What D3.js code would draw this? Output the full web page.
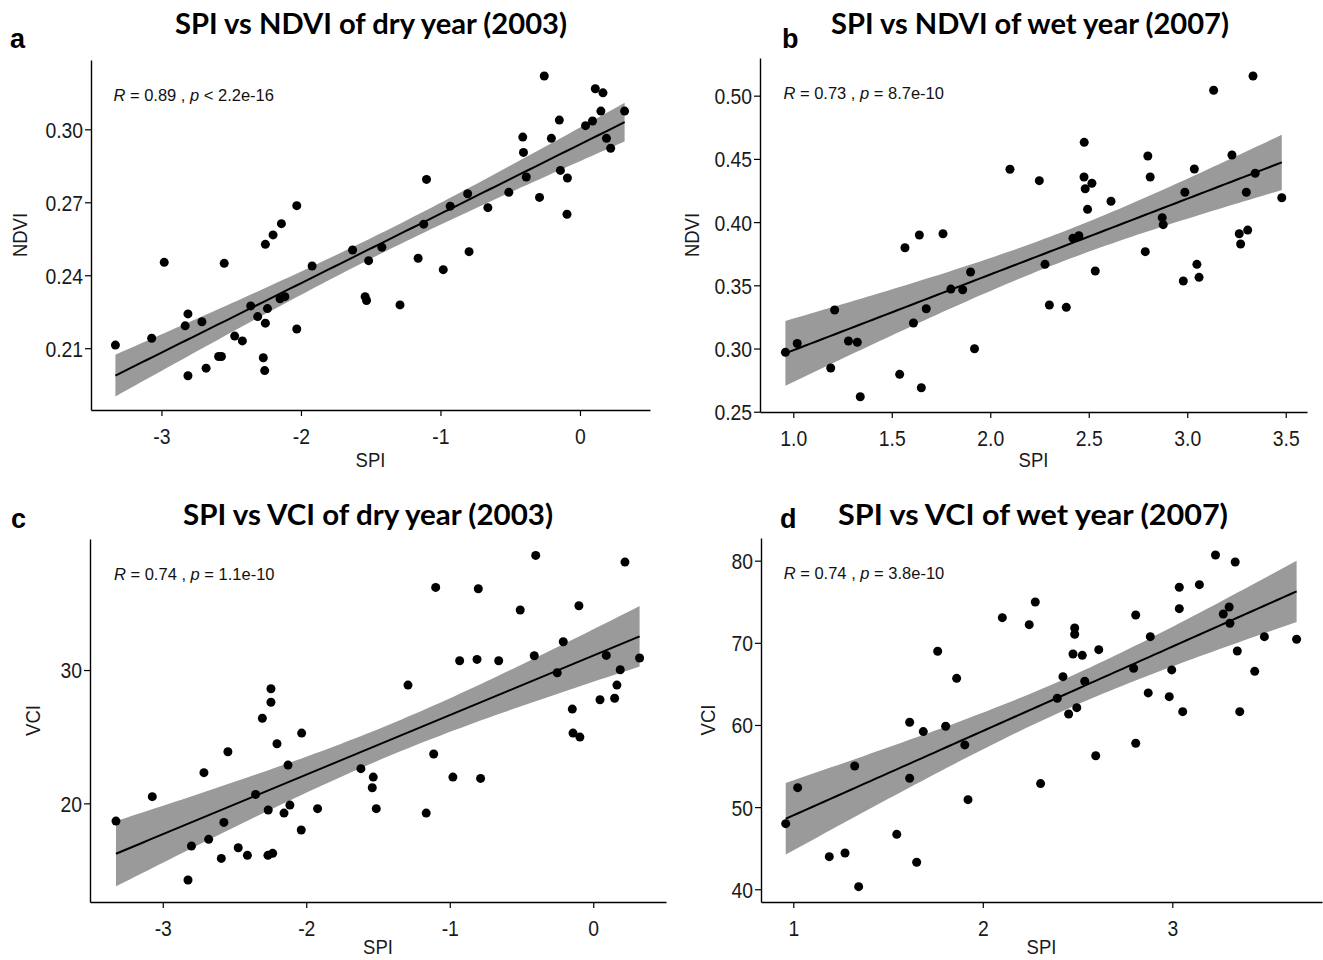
<!DOCTYPE html>
<html>
<head>
<meta charset="utf-8">
<script src="https://cdn.jsdelivr.net/npm/d3@7"></script>
<style>
  body { margin: 0; background: #fff; }
  svg { display: block; }
</style>
</head>
<body>
<svg id="fig" width="1323" height="960"></svg>
<script>
// ---- values ----
var titles = ['SPI vs NDVI of dry year (2003)', 'SPI vs NDVI of wet year (2007)',
              'SPI vs VCI of dry year (2003)', 'SPI vs VCI of wet year (2007)'];
var letters = ['a', 'b', 'c', 'd'];
var xLabels = ['SPI', 'SPI', 'SPI', 'SPI'];
var yLabels = ['NDVI', 'NDVI', 'VCI', 'VCI'];
var statR = ['0.89', '0.73', '0.74', '0.74'];
var statP = ['< 2.2e-16', '= 8.7e-10', '= 1.1e-10', '= 3.8e-10'];

var aXTicks = [-3, -2, -1, 0];
var aYTicks = [0.21, 0.24, 0.27, 0.30];
var bXTicks = [1.0, 1.5, 2.0, 2.5, 3.0, 3.5];
var bYTicks = [0.25, 0.30, 0.35, 0.40, 0.45, 0.50];
var cXTicks = [-3, -2, -1, 0];
var cYTicks = [20, 30];
var dXTicks = [1, 2, 3];
var dYTicks = [40, 50, 60, 70, 80];

// a: SPI vs NDVI, 2003
var aSPI = [-3.33, -3.07, -2.98, -2.81, -2.83, -2.81, -2.71, -2.68, -2.59, -2.57, -2.55, -2.475, -2.42, -2.36,
  -2.31, -2.255, -2.20, -2.14, -2.03, -2.24, -2.255, -2.27, -2.26, -2.15, -2.115, -2.03, -1.92,
  -1.63, -1.515, -1.54, -1.53, -1.42, -1.29, -1.16, -1.12, -1.10, -0.98, -0.93, -0.805, -0.795, -0.66,
  -0.51, -0.41, -0.405, -0.385, -0.29, -0.256, -0.205, -0.148, -0.14, -0.09, -0.093, 0.04, 0.09, 0.11,
  0.165, 0.15, 0.19, 0.22, 0.32];
var aNDVI = [0.2113, 0.2141, 0.2453, 0.2241, 0.2192, 0.1987, 0.2209, 0.2018, 0.2066, 0.2066, 0.2449, 0.2150, 0.2130, 0.2274,
  0.2230, 0.2527, 0.2566, 0.2612, 0.2686, 0.2263, 0.2203, 0.2061, 0.2008, 0.2303, 0.2312, 0.2179, 0.2438,
  0.2504, 0.2460, 0.2312, 0.2296, 0.2515, 0.2278, 0.2470, 0.2610, 0.2794, 0.2423, 0.2684, 0.2735, 0.2497, 0.2678,
  0.2741, 0.2968, 0.2905, 0.2804, 0.2720, 0.3219, 0.2963, 0.3038, 0.2831, 0.2800, 0.2651, 0.3015, 0.3034, 0.3167,
  0.3150, 0.3075, 0.2963, 0.2922, 0.3075];

// b: SPI vs NDVI, 2007
var bSPI = [0.96, 1.02, 1.21, 1.19, 1.28, 1.325, 1.34, 1.54, 1.567, 1.64, 1.61, 1.65, 1.675, 1.76, 1.80, 1.86,
  1.90, 1.92, 2.10, 2.249, 2.278, 2.30, 2.386, 2.42, 2.45, 2.477, 2.476, 2.482, 2.516, 2.494, 2.533, 2.613,
  2.787, 2.80, 2.812, 2.873, 2.878, 2.98, 2.988, 3.036, 3.049, 3.06, 3.134, 3.227, 3.264, 3.271, 3.30,
  3.307, 3.334, 3.345, 3.48];
var bNDVI = [0.297, 0.304, 0.3305, 0.2846, 0.306, 0.305, 0.2619, 0.2796, 0.3797, 0.3898, 0.3202, 0.269, 0.3315, 0.3908, 0.347, 0.3465,
  0.3605, 0.2998, 0.4418, 0.4328, 0.3666, 0.3344, 0.3326, 0.3872, 0.3892, 0.4631, 0.4357, 0.4264, 0.4307, 0.4101, 0.3613, 0.4165,
  0.3766, 0.4523, 0.4357, 0.4035, 0.398, 0.3534, 0.4236, 0.442, 0.3666, 0.3563, 0.5043, 0.4531, 0.3908, 0.3827, 0.4236,
  0.3937, 0.5156, 0.4386, 0.4193];

// c: SPI vs VCI, 2003
var cSPI = [-3.326, -3.073, -2.824, -2.80, -2.713, -2.68, -2.592, -2.574, -2.546, -2.474, -2.41, -2.353, -2.306, -2.265,
  -2.267, -2.234, -2.246, -2.246, -2.204, -2.155, -2.127, -2.114, -2.035, -2.032, -1.921,
  -1.619, -1.533, -1.54, -1.512, -1.291, -1.164, -1.112, -1.098, -0.978, -0.931, -0.81, -0.801, -0.785, -0.659,
  -0.509, -0.411, -0.401, -0.251, -0.209, -0.146, -0.141, -0.093, -0.10, 0.047, 0.091, 0.149, 0.165, 0.188,
  0.221, 0.323];
var cVCI = [18.67, 20.50, 14.25, 16.80, 22.30, 17.30, 15.87, 18.57, 23.87, 16.67, 16.10, 20.67, 26.38, 19.50,
  16.10, 16.25, 28.60, 27.58, 24.47, 19.27, 22.87, 19.87, 18.0, 25.27, 19.60,
  22.60, 21.97, 21.17, 19.60, 28.87, 19.27, 23.70, 36.20, 21.97, 30.70, 30.80, 36.10, 21.87, 30.70,
  34.50, 31.07, 38.60, 29.80, 32.12, 27.07, 25.27, 24.97, 34.82, 27.77, 31.10, 27.88, 28.87, 30.02,
  38.10, 30.90];

// d: SPI vs VCI, 2007
var dSPI = [0.96, 1.023, 1.19, 1.273, 1.324, 1.345, 1.546, 1.614, 1.614, 1.651, 1.686, 1.762, 1.804, 1.862, 1.905,
  1.922, 2.103, 2.245, 2.277, 2.305, 2.393, 2.423, 2.453, 2.476, 2.485, 2.485, 2.496, 2.525, 2.538, 2.596,
  2.612, 2.796, 2.807, 2.807, 2.873, 2.884, 2.984, 2.997, 3.037, 3.037, 3.055, 3.143, 3.228, 3.269, 3.30,
  3.304, 3.332, 3.343, 3.356, 3.435, 3.486, 3.656];
var dVCI = [47.99, 52.37, 43.97, 44.42, 55.01, 40.32, 46.69, 60.33, 53.51, 43.29, 59.19, 68.97, 59.84, 65.68, 57.57,
  50.91, 73.06, 72.21, 74.97, 52.86, 63.25, 65.88, 61.34, 68.64, 71.81, 71.04, 62.11, 68.48, 65.32, 56.26,
  69.17, 66.90, 73.39, 57.77, 63.90, 70.75, 63.45, 66.70, 74.16, 76.76, 61.62, 77.08, 80.69, 73.51, 74.36,
  72.38, 79.84, 69.01, 61.62, 66.53, 70.75, 70.43];

// ---- layout ----
var panels = [
  {xs: aSPI, ys: aNDVI, xTicks: aXTicks, yTicks: aYTicks, xFmt: 'd', yFmt: '.2f',
   left: 91, right: 650, top: 60, bottom: 410, xDom: [-3.505, 0.502], yDom: [0.1846, 0.3285],
   titleX: 371, titleY: 34, titleW: 392, letterX: 10, letterY: 48, yTitleX: 27, xTitleY: 467},
  {xs: bSPI, ys: bNDVI, xTicks: bXTicks, yTicks: bYTicks, xFmt: '.1f', yFmt: '.2f',
   left: 760, right: 1307, top: 58, bottom: 412, xDom: [0.831, 3.608], yDom: [0.2498, 0.5298],
   titleX: 1030, titleY: 34, titleW: 398, letterX: 782, letterY: 48, yTitleX: 699, xTitleY: 467},
  {xs: cSPI, ys: cVCI, xTicks: cXTicks, yTicks: cYTicks, xFmt: 'd', yFmt: 'd',
   left: 90, right: 666, top: 539, bottom: 902, xDom: [-3.507, 0.507], yDom: [12.60, 39.83],
   titleX: 368, titleY: 525, titleW: 370, letterX: 11, letterY: 528, yTitleX: 40, xTitleY: 954},
  {xs: dSPI, ys: dVCI, xTicks: dXTicks, yTicks: dYTicks, xFmt: 'd', yFmt: 'd',
   left: 761, right: 1322, top: 538, bottom: 902, xDom: [0.8296, 3.79], yDom: [38.45, 82.76],
   titleX: 1033, titleY: 525, titleW: 390, letterX: 780, letterY: 528, yTitleX: 715, xTitleY: 954}
];

var tCrit = 2.005;   // 95% t quantile, df ~ 50
var squeeze = 0.88;  // the figure's text is slightly narrowed

var svg = d3.select('#fig');

function fmt(f) {
  return function(d) { return d3.format(f)(d).replace('\u2212', '-'); };
}

function fitLine(xs, ys, grid) {
  var n = xs.length;
  var mx = d3.mean(xs), my = d3.mean(ys);
  var sxx = 0, sxy = 0;
  for (var i = 0; i < n; i++) {
    sxx += (xs[i] - mx) * (xs[i] - mx);
    sxy += (xs[i] - mx) * (ys[i] - my);
  }
  var b = sxy / sxx, a = my - b * mx;
  var sse = 0;
  for (var i = 0; i < n; i++) {
    var r = ys[i] - (a + b * xs[i]);
    sse += r * r;
  }
  var s = Math.sqrt(sse / (n - 2));
  return grid.map(function(x) {
    var fit = a + b * x;
    var se = s * Math.sqrt(1 / n + (x - mx) * (x - mx) / sxx);
    return {x: x, fit: fit, lo: fit - tCrit * se, hi: fit + tCrit * se};
  });
}

panels.forEach(function(p, k) {
  var x = d3.scaleLinear().domain(p.xDom).range([p.left, p.right]);
  var y = d3.scaleLinear().domain(p.yDom).range([p.bottom, p.top]);
  var g = svg.append('g');

  // smooth + confidence band over the data range
  var ext = d3.extent(p.xs);
  var grid = d3.range(80).map(function(i) { return ext[0] + i * (ext[1] - ext[0]) / 79; });
  var band = fitLine(p.xs, p.ys, grid);

  g.append('path')
    .datum(band)
    .attr('fill', '#9a9a9a')
    .attr('d', d3.area()
      .x(function(d) { return x(d.x); })
      .y0(function(d) { return y(d.lo); })
      .y1(function(d) { return y(d.hi); }));

  g.append('path')
    .datum(band)
    .attr('fill', 'none')
    .attr('stroke', '#000')
    .attr('stroke-width', 2)
    .attr('d', d3.line()
      .x(function(d) { return x(d.x); })
      .y(function(d) { return y(d.fit); }));

  g.selectAll('.pt')
    .data(p.xs.map(function(v, i) { return [v, p.ys[i]]; }))
    .join('circle')
    .attr('class', 'pt')
    .attr('cx', function(d) { return x(d[0]); })
    .attr('cy', function(d) { return y(d[1]); })
    .attr('r', 4.5)
    .attr('fill', '#000');

  // axes
  var xa = g.append('g')
    .attr('transform', 'translate(0,' + p.bottom + ')')
    .call(d3.axisBottom(x).tickValues(p.xTicks).tickFormat(fmt(p.xFmt))
      .tickSize(6).tickSizeOuter(0).tickPadding(12));
  var ya = g.append('g')
    .attr('transform', 'translate(' + p.left + ',0)')
    .call(d3.axisLeft(y).tickValues(p.yTicks).tickFormat(fmt(p.yFmt))
      .tickSize(6).tickSizeOuter(0).tickPadding(3));

  [xa, ya].forEach(function(ax) {
    ax.select('.domain').attr('stroke', '#000').attr('stroke-width', 1.4);
    ax.selectAll('.tick line').attr('stroke', '#000').attr('stroke-width', 1.2);
    ax.selectAll('.tick text')
      .attr('fill', '#1a1a1a')
      .attr('font-family', 'Liberation Sans, Arial, sans-serif')
      .attr('font-size', 22)
      .attr('transform', 'scale(' + squeeze + ',1)');
  });
  ya.selectAll('.tick text').attr('dy', '0.36em');

  // axis titles
  g.append('text')
    .text(xLabels[k])
    .attr('transform', 'translate(' + ((p.left + p.right) / 2) + ',' + p.xTitleY + ') scale(' + squeeze + ',1)')
    .attr('text-anchor', 'middle')
    .attr('font-family', 'Liberation Sans, Arial, sans-serif')
    .attr('font-size', 21)
    .attr('fill', '#1a1a1a');

  g.append('text')
    .text(yLabels[k])
    .attr('transform', 'translate(' + p.yTitleX + ',' + ((p.top + p.bottom) / 2) + ') rotate(-90) scale(' + squeeze + ',1)')
    .attr('text-anchor', 'middle')
    .attr('font-family', 'Liberation Sans, Arial, sans-serif')
    .attr('font-size', 21)
    .attr('fill', '#1a1a1a');

  // R / p annotation
  var st = g.append('text')
    .attr('x', x(ext[0]) - 2)
    .attr('y', p.top + 41)
    .attr('font-family', 'Liberation Sans, Arial, sans-serif')
    .attr('font-size', 16.5)
    .attr('fill', '#111');
  st.append('tspan').attr('font-style', 'italic').text('R');
  st.append('tspan').text(' = ' + statR[k] + ' , ');
  st.append('tspan').attr('font-style', 'italic').text('p');
  st.append('tspan').text(' ' + statP[k]);

  // title and panel letter
  svg.append('text')
    .text(titles[k])
    .attr('x', p.titleX)
    .attr('y', p.titleY)
    .attr('text-anchor', 'middle')
    .attr('font-family', 'Lato, Open Sans, sans-serif')
    .attr('font-weight', 700)
    .attr('font-size', 28)
    .attr('textLength', p.titleW)
    .attr('lengthAdjust', 'spacingAndGlyphs')
    .attr('fill', '#000');

  svg.append('text')
    .text(letters[k])
    .attr('x', p.letterX)
    .attr('y', p.letterY)
    .attr('font-family', 'Liberation Sans, Arial, sans-serif')
    .attr('font-weight', 700)
    .attr('font-size', 27)
    .attr('fill', '#000');
});
</script>
</body>
</html>
